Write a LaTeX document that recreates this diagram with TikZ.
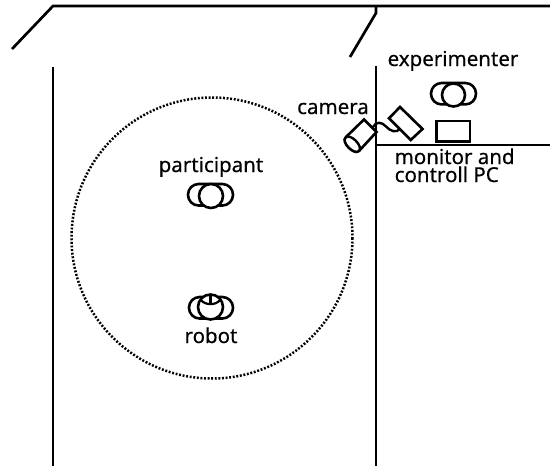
\documentclass[tikz,border=0pt]{standalone}
\usepackage{fontspec}
\setmainfont{Noto Sans}
\tikzset{
 wall/.style={line width=2.7pt},
 thing/.style={line width=2.6pt,fill=white},
 lab/.style={font=\fontsize{20.5pt}{18pt}\selectfont\addfontfeatures{FakeBold=0.45},align=left,inner sep=0pt}
}
\begin{document}
\begin{tikzpicture}[x=1pt,y=-1pt]
\useasboundingbox (0,0) rectangle (550,466);
% walls
\draw[wall] (12,49) -- (53,6) -- (550,6);
\draw[wall] (350,57) -- (376,13) -- (376,6);
\draw[wall] (53,67) -- (53,466);
\draw[wall] (376,66) -- (376,466);
\draw[wall] (376,145) -- (550,145);
% area
\draw[line width=2.5pt,dash pattern=on 1.9pt off 1.7pt] (212,238) circle (140.5);
% people
\draw[thing,rounded corners=10.6pt] (431,83) rectangle (476,104.4);
\node[circle,draw,thing,minimum size=23pt,inner sep=0pt] (exp) at (453.5,95) {};
\draw[thing,rounded corners=10.6pt] (188,184) rectangle (233,205.5);
\node[circle,draw,thing,minimum size=24pt,inner sep=0pt] (par) at (211,196) {};
\draw[thing,rounded corners=10.6pt] (189,297) rectangle (233,318.5);
\node[circle,draw,thing,minimum size=25pt,inner sep=0pt] (rob) at (210.5,307) {};
\draw[line width=2.2pt] (201,300) .. controls (205,305.5) and (216,305.5) .. (220,300);
\draw[line width=2.2pt] (210.5,295) -- (210.5,303);
% monitor
\draw[thing] (436.5,121) rectangle (470,141.5);
% cameras
\draw[line width=2.4pt] (373,127) .. controls (376,121) and (382,122) .. (386,126.5) .. controls (390,131) and (397,134) .. (400,128);
\draw[thing] (400,107) -- (422.5,129) -- (410.7,140) -- (389,118.3) -- cycle;
\draw[thing] (345.5,137.5) -- (364,119.5) -- (376.5,132) -- (359,151)
  .. controls (354.3,155.7) and (340.8,142.2) .. (345.5,137.5);
\draw[line width=2.4pt] (345.5,137.5) .. controls (350.2,132.8) and (363.7,146.3) .. (359,151);
% labels
\node[lab,anchor=base] (l1) at (453,66) {experimenter};
\node[lab,anchor=base] (l2) at (333,114) {camera};
\node[lab,anchor=base west] (l3) at (394.5,164) {monitor and};
\node[lab,anchor=base west] (l4) at (394.5,182) {controll PC};
\node[lab,anchor=base] (l5) at (211,172) {participant};
\node[lab,anchor=base] (l6) at (211,343) {robot};
\end{tikzpicture}
\end{document}
